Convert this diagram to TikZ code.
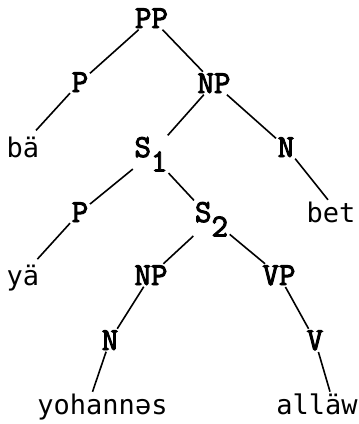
\documentclass[tikz,border=0pt]{standalone}
\usepackage{fontspec}
\newfontfamily\catfont{Latin Modern Mono}[FakeBold=3]
\newfontfamily\leaffont{DejaVu Sans Mono}
\newcommand{\lowsub}[1]{\raisebox{-0.45em}{#1}}
\tikzset{
  cat/.style = {
    anchor=base, inner sep=1.5pt,
    font=\catfont\bfseries\fontsize{32}{32}\selectfont
  },
  leaf/.style = {
    anchor=base, inner sep=1.5pt,
    font=\leaffont\fontsize{27}{27}\selectfont
  },
  branch/.style = {draw=black, line width=1.6pt},
}

\begin{document}
\begin{tikzpicture}[x=1pt, y=-1pt]

  \useasboundingbox (0,0) rectangle (359,424);

  % categories
  \node[cat] (pp)  at (151.5,28) {PP};
  \node[cat] (p1)  at (80,92)    {P};
  \node[cat] (np1) at (214,93)   {NP};
  \node[cat] (s1)  at (151,157)  {S\lowsub{1}};
  \node[cat] (n1)  at (286,157)  {N};
  \node[cat] (p2)  at (80,222)   {P};
  \node[cat] (s2)  at (211.5,222) {S\lowsub{2}};
  \node[cat] (np2) at (151,285)  {NP};
  \node[cat] (vp)  at (279,285)  {VP};
  \node[cat] (n2)  at (110,350)  {N};
  \node[cat] (v)   at (315,350)  {V};

  % words
  \node[leaf] (ba)    at (23,157)    {bä};
  \node[leaf] (bet)   at (331,222)   {bet};
  \node[leaf] (ya)    at (23,285)    {yä};
  \node[leaf] (yoh)   at (102.5,414) {yohannəs};
  \node[leaf] (allaw) at (317,414)   {alläw};

  \draw[branch] (pp)  -- (p1);
  \draw[branch] (pp)  -- (np1);
  \draw[branch, shorten >=6pt] (p1) -- ([xshift=9pt]ba.north);
  \draw[branch] (np1) -- (s1);
  \draw[branch] (np1) -- (n1);
  \draw[branch] (s1)  -- (p2);
  \draw[branch] (s1)  -- (s2);
  \draw[branch] (n1)  -- ([xshift=-3pt]bet.north);
  \draw[branch, shorten >=5pt] (p2) -- ([xshift=11pt]ya.north);
  \draw[branch] (s2)  -- (np2);
  \draw[branch] (s2)  -- (vp);
  \draw[branch] (np2) -- (n2);
  \draw[branch] (vp)  -- (v);
  \draw[branch] (n2)  -- ([xshift=-10pt]yoh.north);
  \draw[branch] (v)   -- ([xshift=13pt]allaw.north);

\end{tikzpicture}
\end{document}
